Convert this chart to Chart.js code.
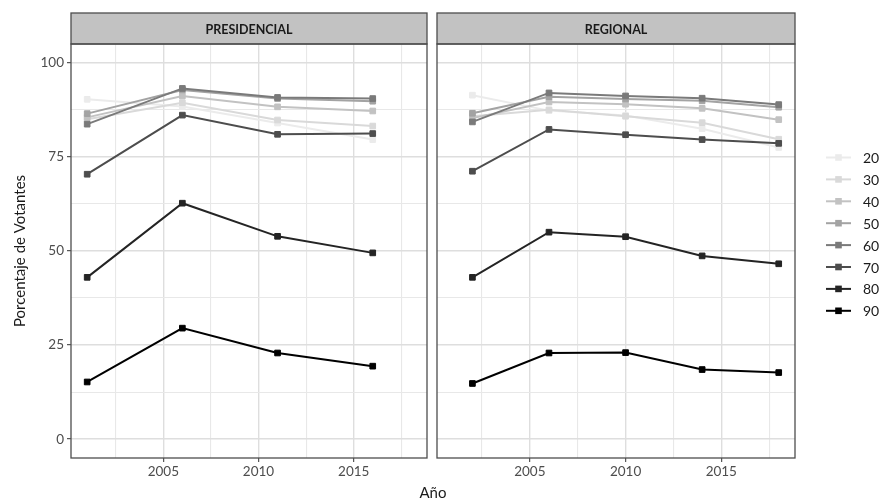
<!DOCTYPE html>
<html>
<head>
<meta charset="utf-8">
<script src="https://cdn.jsdelivr.net/npm/chart.js@4/dist/chart.umd.min.js"></script>
<style>
  html, body { margin: 0; padding: 0; background: #fff; }
  #wrap { position: relative; width: 883px; height: 504px; overflow: hidden; font-family: Lato, sans-serif; }
  #cl { position: absolute; left: 0; top: 0; }
  #cr { position: absolute; left: 432px; top: 0; }
  #xt { position: absolute; left: 0; width: 866px; top: 483px; text-align: center; font-size: 15px; color: #1a1a1a; }
</style>
</head>
<body>
<div id="wrap">
  <canvas id="cl" width="432" height="504"></canvas>
  <canvas id="cr" width="451" height="504"></canvas>
  <div id="xt">Año</div>
</div>
<script>
// Age groups (legend order) and grey ramp, light to dark
const edades = ['20', '30', '40', '50', '60', '70', '80', '90'];
const grises = ['#ebebeb', '#d9d9d9', '#c2c2c2', '#a3a3a3', '#7a7a7a', '#4d4d4d', '#242424', '#000000'];

// Election years per panel
const aniosPres = [2001, 2006, 2011, 2016];
const aniosReg = [2002, 2006, 2010, 2014, 2018];

// Turnout (%) by age group — presidential elections
const pres20 = [90.3, 88.4, 84.0, 79.6];
const pres30 = [85.0, 89.4, 84.8, 83.2];
const pres40 = [85.5, 91.2, 88.3, 87.2];
const pres50 = [86.5, 92.8, 90.5, 89.8];
const pres60 = [83.7, 93.2, 90.8, 90.5];
const pres70 = [70.4, 86.1, 81.0, 81.2];
const pres80 = [43.0, 62.7, 53.9, 49.5];
const pres90 = [15.2, 29.5, 22.9, 19.4];

// Turnout (%) by age group — regional elections
const reg20 = [91.4, 87.3, 86.0, 82.5, 77.5];
const reg30 = [85.8, 87.5, 85.8, 84.1, 79.7];
const reg40 = [85.3, 89.6, 89.0, 87.9, 84.9];
const reg50 = [86.6, 91.0, 90.4, 89.9, 88.2];
const reg60 = [84.3, 92.0, 91.2, 90.6, 88.9];
const reg70 = [71.2, 82.3, 80.9, 79.6, 78.6];
const reg80 = [43.0, 55.0, 53.8, 48.7, 46.6];
const reg90 = [14.8, 22.9, 23.0, 18.5, 17.7];

// Axis breaks (major + minor)
const xTicks = [2002.5, 2005, 2007.5, 2010, 2012.5, 2015, 2017.5];
const yTicks = [0, 12.5, 25, 37.5, 50, 62.5, 75, 87.5, 100];

const seriesPres = [pres20, pres30, pres40, pres50, pres60, pres70, pres80, pres90];
const seriesReg = [reg20, reg30, reg40, reg50, reg60, reg70, reg80, reg90];

Chart.defaults.font.family = 'Lato, sans-serif';

function datasets(years, series) {
  return series.map((vals, i) => ({
    label: edades[i],
    data: vals.map((v, j) => ({ x: years[j], y: v })),
    borderColor: grises[i],
    backgroundColor: grises[i],
    pointBackgroundColor: grises[i],
    pointBorderColor: grises[i],
    borderWidth: 2,
    pointStyle: 'rect',
    pointRadius: 4,
    pointBorderWidth: 1,
    tension: 0,
    order: edades.length - i
  }));
}

// Facet strip on top of the panel plus the panel border
const panelFrame = {
  id: 'panelFrame',
  afterDraw(chart, args, opts) {
    const { ctx, chartArea: a } = chart;
    const top = 13;
    ctx.save();
    ctx.fillStyle = '#c2c2c2';
    ctx.fillRect(a.left, top, a.right - a.left, a.top - top);
    ctx.strokeStyle = '#4d4d4d';
    ctx.lineWidth = 1.3;
    ctx.strokeRect(a.left, top, a.right - a.left, a.top - top);
    ctx.strokeRect(a.left, a.top, a.right - a.left, a.bottom - a.top);
    ctx.fillStyle = '#1a1a1a';
    ctx.font = 'bold 12.5px Lato, sans-serif';
    ctx.textAlign = 'center';
    ctx.textBaseline = 'middle';
    ctx.fillText(opts.text, (a.left + a.right) / 2, (top + a.top) / 2 + 1);
    ctx.restore();
  }
};

// Legend: line segment with square marker for each age group
const ageLegend = {
  id: 'ageLegend',
  afterDraw(chart, args, opts) {
    if (!opts.show) return;
    const ctx = chart.ctx;
    const x0 = chart.chartArea.right + 31;
    ctx.save();
    chart.data.datasets.forEach((ds, i) => {
      const y = 157.5 + i * 21.9;
      ctx.strokeStyle = ds.borderColor;
      ctx.lineWidth = 2;
      ctx.beginPath();
      ctx.moveTo(x0, y);
      ctx.lineTo(x0 + 25, y);
      ctx.stroke();
      ctx.fillStyle = ds.borderColor;
      ctx.fillRect(x0 + 12.5 - 3.3, y - 3.3, 6.6, 6.6);
      ctx.fillStyle = '#1a1a1a';
      ctx.font = '14px Lato, sans-serif';
      ctx.textAlign = 'left';
      ctx.textBaseline = 'middle';
      ctx.fillText(ds.label, x0 + 37, y + 1);
    });
    ctx.restore();
  }
};

function opciones(izq, titulo) {
  return {
    responsive: false,
    animation: false,
    devicePixelRatio: 1,
    layout: { padding: { left: izq ? 0 : 5, right: izq ? 5 : 88, top: 44, bottom: 20 } },
    plugins: {
      legend: { display: false },
      tooltip: { enabled: false },
      panelFrame: { text: titulo },
      ageLegend: { show: !izq }
    },
    scales: {
      x: {
        type: 'linear',
        min: 2000.15,
        max: 2018.85,
        afterBuildTicks: s => { s.ticks = xTicks.map(v => ({ value: v })); },
        afterFit: s => { s.height = 26; },
        border: { display: false },
        grid: {
          color: c => (c.tick && c.tick.value % 5 === 0) ? '#dedede' : '#e8e8e8',
          lineWidth: c => (c.tick && c.tick.value % 5 === 0) ? 1.4 : 1.1,
          drawTicks: true,
          tickLength: 4,
          tickColor: c => (c.tick && c.tick.value % 5 === 0) ? '#333333' : 'rgba(0,0,0,0)',
          tickWidth: 1
        },
        ticks: {
          color: '#4d4d4d',
          font: { size: 13.5 },
          padding: 2,
          autoSkip: false,
          maxRotation: 0,
          callback: v => (v % 5 === 0 ? String(v) : '')
        }
      },
      y: {
        type: 'linear',
        min: -5,
        max: 105,
        afterBuildTicks: s => { s.ticks = yTicks.map(v => ({ value: v })); },
        afterFit: s => { s.width = izq ? 71 : 0; },
        border: { display: false },
        grid: {
          color: c => (c.tick && c.tick.value % 25 === 0) ? '#dedede' : '#e8e8e8',
          lineWidth: c => (c.tick && c.tick.value % 25 === 0) ? 1.4 : 1.1,
          drawTicks: izq,
          tickLength: 4,
          tickColor: c => (c.tick && c.tick.value % 25 === 0) ? '#333333' : 'rgba(0,0,0,0)',
          tickWidth: 1
        },
        ticks: {
          display: izq,
          color: '#4d4d4d',
          font: { size: 13.5 },
          padding: 3,
          autoSkip: false,
          callback: v => (v % 25 === 0 ? String(v) : '')
        },
        title: {
          display: izq,
          text: 'Porcentaje de Votantes',
          color: '#1a1a1a',
          font: { size: 15 },
          padding: { top: 11, bottom: 0 }
        }
      }
    }
  };
}

new Chart(document.getElementById('cl'), {
  type: 'line',
  data: { datasets: datasets(aniosPres, seriesPres) },
  options: opciones(true, 'PRESIDENCIAL'),
  plugins: [panelFrame, ageLegend]
});

new Chart(document.getElementById('cr'), {
  type: 'line',
  data: { datasets: datasets(aniosReg, seriesReg) },
  options: opciones(false, 'REGIONAL'),
  plugins: [panelFrame, ageLegend]
});
</script>
</body>
</html>
